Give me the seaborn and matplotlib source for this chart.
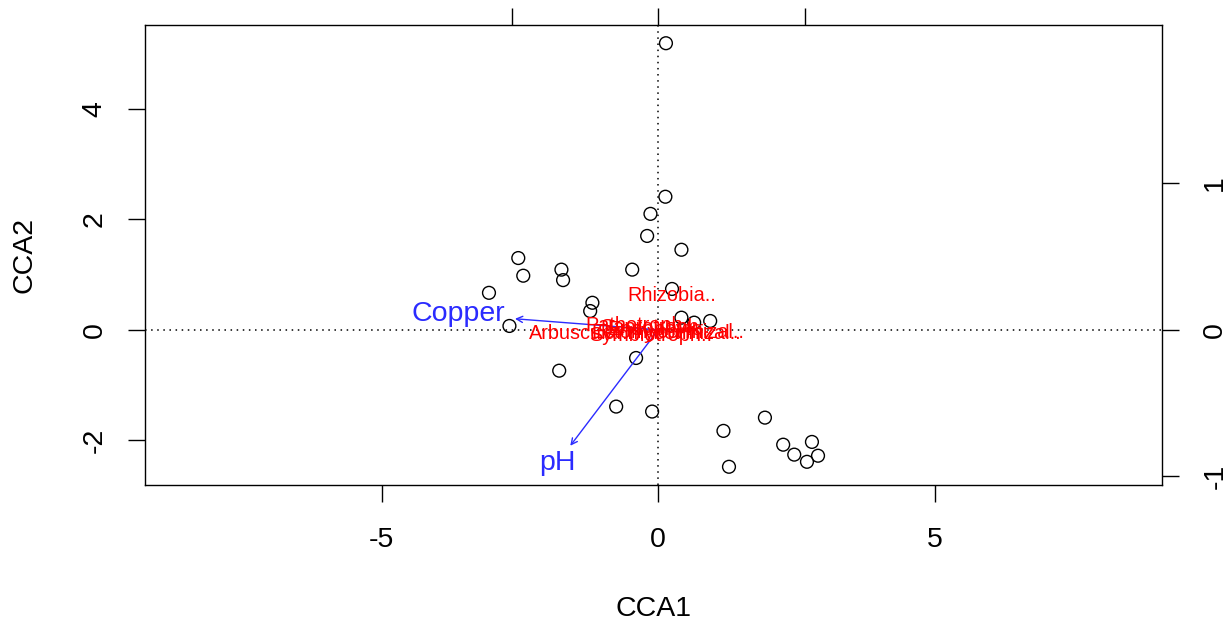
import numpy as np
import pandas as pd
import matplotlib
matplotlib.use("Agg")
import matplotlib.pyplot as plt
import seaborn as sns

# ---- data ----
site_cca1 = [0.14, 0.13, -0.14, -0.20, 0.42, -2.53, -2.44, -1.75, -1.72, -0.47,
             -3.06, 0.25, -1.19, -1.23, -2.69, 0.42, 0.65, 0.94, -0.40, -1.79,
             -0.76, -0.11, 1.93, 1.18, 2.78, 2.26, 2.46, 2.89, 2.69, 1.28]
site_cca2 = [5.19, 2.41, 2.10, 1.70, 1.45, 1.30, 0.98, 1.09, 0.90, 1.09,
             0.67, 0.74, 0.49, 0.34, 0.07, 0.22, 0.13, 0.16, -0.51, -0.74,
             -1.39, -1.48, -1.59, -1.83, -2.03, -2.08, -2.26, -2.28, -2.39, -2.48]

env_names = ["Copper", "pH"]
env_cca1 = [-2.59, -1.59]
env_cca2 = [0.20, -2.10]
env_label_cca1 = [-3.62, -1.83]
env_label_cca2 = [0.29, -2.41]

species_names = ["Rhizobia..", "Pathotroph..", "Saprotroph..", "Endophyte..",
                 "Ectomycorrhizal..", "Symbiotroph..", "Arbuscular.mycorrhizal.."]
species_cca1 = [0.25, -0.33, -0.05, 0.04, 0.18, -0.14, -0.42]
species_cca2 = [0.63, 0.07, 0.04, 0.00, -0.04, -0.11, -0.07]

bottom_ticks = [-5, 0, 5]
left_ticks = [-2, 0, 2, 4]
second_ticks = [-1, 0, 1]
SCALE = 2.65  # ratio between site axes and species (top/right) axes

XLIM = (-9.28, 9.11)
YLIM = (-2.81, 5.52)

# ---- style ----
sns.set_theme(style="white")
plt.rcParams['font.family'] = ['Liberation Sans', 'DejaVu Sans']
plt.rcParams['text.color'] = 'black'
plt.rcParams['axes.labelcolor'] = 'black'
plt.rcParams['xtick.color'] = 'black'
plt.rcParams['ytick.color'] = 'black'
FS = 20.5

fig = plt.figure(figsize=(12.26, 6.22), dpi=100)
ax = fig.add_axes([145/1226, 1-485/622, (1162-145)/1226, (485-25)/622])

sites = pd.DataFrame({"CCA1": site_cca1, "CCA2": site_cca2})
ax.axhline(0, color="black", lw=1.1, ls=(0, (1, 3)), zorder=1)
ax.axvline(0, color="black", lw=1.1, ls=(0, (1, 3)), zorder=1)
sns.scatterplot(data=sites, x="CCA1", y="CCA2", ax=ax, s=85, marker="o",
                facecolor="none", edgecolor="black", linewidth=1.0, zorder=3)

blue = "#2b2bff"
for name, x, y, lx, ly in zip(env_names, env_cca1, env_cca2, env_label_cca1, env_label_cca2):
    ax.annotate("", xy=(x, y), xytext=(0, 0),
                arrowprops=dict(arrowstyle="->", color=blue, lw=1.0,
                                mutation_scale=11, shrinkA=0, shrinkB=0), zorder=4)
    ax.text(lx, ly, name, color=blue, fontsize=FS, ha="center", va="center", zorder=5)

for name, x, y in zip(species_names, species_cca1, species_cca2):
    ax.text(x, y, name, color="red", fontsize=14.3, ha="center", va="center", zorder=5)

ax.set_xlim(*XLIM)
ax.set_ylim(*YLIM)
ax.set_xticks(bottom_ticks)
ax.set_xticklabels([str(t) for t in bottom_ticks])
ax.set_yticks(left_ticks)
ax.set_yticklabels([str(t) for t in left_ticks])

for sp in ax.spines.values():
    sp.set_color("black")
    sp.set_linewidth(1.0)

ax.tick_params(axis="x", direction="out", length=12, width=1.0, color="black",
               labelcolor="black", labelsize=FS, pad=18, bottom=True)
ax.tick_params(axis="y", direction="out", length=12, width=1.0, color="black",
               labelcolor="black", labelsize=FS, pad=15, left=True, labelrotation=90)
for lab in ax.get_yticklabels():
    lab.set_va("center")

ax.set_xlabel("CCA1", fontsize=FS, color="black")
ax.set_ylabel("CCA2", fontsize=FS, color="black")
ax.xaxis.set_label_coords(0.5, -0.27)
ax.xaxis.label.set_va("center")
ax.yaxis.set_label_coords(-0.118, 0.5)
ax.yaxis.label.set_va("center")

secx = ax.secondary_xaxis("top", functions=(lambda v: v / SCALE, lambda v: v * SCALE))
secx.set_xticks(second_ticks)
secx.set_xticklabels(["" for _ in second_ticks])
secx.tick_params(direction="out", length=12, width=1.0, color="black")
secx.spines["top"].set_visible(False)

secy = ax.secondary_yaxis("right", functions=(lambda v: v / SCALE, lambda v: v * SCALE))
secy.set_yticks(second_ticks)
secy.set_yticklabels([str(t) for t in second_ticks])
secy.tick_params(direction="out", length=12, width=1.0, color="black",
                 labelcolor="black", labelsize=FS, pad=17, labelrotation=90)
for lab in secy.get_yticklabels():
    lab.set_va("center")
secy.spines["right"].set_visible(False)

fig.savefig("out.png", dpi=100)
